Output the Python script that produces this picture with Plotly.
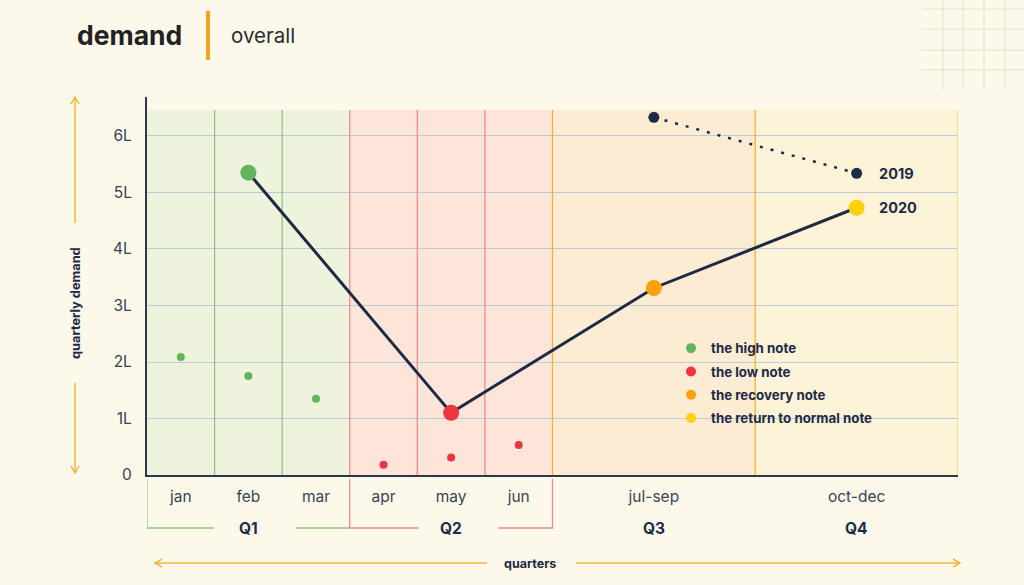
import plotly.graph_objects as go

# ---------------- data ----------------
month_pos = [0.5, 1.5, 2.5, 3.5, 4.5, 5.5, 7.5, 10.5]
month_labels = ["jan", "feb", "mar", "apr", "may", "jun", "jul-sep", "oct-dec"]
quarter_pos = [1.5, 4.5, 7.5, 10.5]
quarter_labels = ["Q1", "Q2", "Q3", "Q4"]

y_ticks = [0, 1, 2, 3, 4, 5, 6]
y_tick_labels = ["0", "1L", "2L", "3L", "4L", "5L", "6L"]

# 2020 quarterly demand (in lakhs) at feb, may, jul-sep, oct-dec
x_2020 = [1.5, 4.5, 7.5, 10.5]
y_2020 = [5.35, 1.10, 3.31, 4.73]
# 2019 demand (jul-sep, oct-dec)
x_2019 = [7.5, 10.5]
y_2019 = [6.33, 5.34]

# monthly demand dots
x_q1_months = [0.5, 1.5, 2.5]
y_q1_months = [2.09, 1.75, 1.35]
x_q2_months = [3.5, 4.5, 5.5]
y_q2_months = [0.18, 0.31, 0.53]

legend_names = ["the high note", "the low note", "the recovery note", "the return to normal note"]

# ---------------- styles ----------------
BG = "#FDF9EA"
NAVY = "#1E2A45"
TXT = "#3A4252"
GREEN, RED, ORANGE, YELLOW = "#63B45B", "#EE3442", "#FFA10A", "#FFD10A"
note_colors = [GREEN, RED, ORANGE, YELLOW]
SHADE = ["#EEF3DD", "#FDE5DA", "#FCECD4", "#FDF3D8"]
SEP_GREEN, SEP_RED, SEP_ORANGE, SEP_YELLOW = "#8DC67E", "#EE8A8A", "#F3B232", "#F6CF4E"
ARROW = "#F5B43C"
FONT = "Inter"

L, R, T, B = 147, 958, 97, 475
W, H = R - L, B - T
YMAX = 6.69
SHADE_TOP = 6.46


def px(x):
    return (x - L) / W


def py(y):
    return (B - y) / H


fig = go.Figure()

# small monthly dots
fig.add_trace(go.Scatter(x=x_q1_months, y=y_q1_months, mode="markers",
                         marker=dict(color=GREEN, size=8), showlegend=False, hoverinfo="y"))
fig.add_trace(go.Scatter(x=x_q2_months, y=y_q2_months, mode="markers",
                         marker=dict(color=RED, size=8), showlegend=False, hoverinfo="y"))

# 2019 dotted line
fig.add_trace(go.Scatter(x=x_2019, y=y_2019, mode="lines+markers", name="2019",
                         line=dict(color=NAVY, width=2.5, dash="3px,8px"),
                         marker=dict(color=NAVY, size=11), showlegend=False))
# 2020 line
fig.add_trace(go.Scatter(x=x_2020, y=y_2020, mode="lines+markers", name="2020",
                         line=dict(color=NAVY, width=3),
                         marker=dict(color=note_colors, size=16), showlegend=False))

# legend entries
for i, (nm, c) in enumerate(zip(legend_names, note_colors)):
    fig.add_trace(go.Scatter(x=[None], y=[None], mode="markers", name=nm,
                             marker=dict(color=c, size=10), legendgroup=f"g{i}"))

shapes = []
# quarter shading
for i, c in enumerate(SHADE):
    shapes.append(dict(type="rect", xref="x", yref="y", x0=3 * i, x1=3 * i + 3, y0=0, y1=SHADE_TOP,
                       fillcolor=c, line=dict(width=0), layer="below"))
# separators
seps = [(1, SEP_GREEN), (2, SEP_GREEN), (3, SEP_RED), (4, SEP_RED), (5, SEP_RED),
        (6, SEP_ORANGE), (9, SEP_ORANGE), (12, SEP_YELLOW)]
for xv, c in seps:
    shapes.append(dict(type="line", xref="x", yref="y", x0=xv, x1=xv, y0=0, y1=SHADE_TOP,
                       line=dict(color=c, width=1.3), layer="between"))

# brackets under month labels
yb0, yb1 = py(479), py(528)
shapes.append(dict(type="path", xref="x", yref="paper",
                   path=f"M0,{yb0} L0,{yb1} L0.99,{yb1} M2.2,{yb1} L3,{yb1}",
                   line=dict(color=SEP_GREEN, width=1.3)))
shapes.append(dict(type="path", xref="x", yref="paper",
                   path=f"M3,{yb0} L3,{yb1} L4.02,{yb1} M5.2,{yb1} L6,{yb1} L6,{yb0}",
                   line=dict(color=SEP_RED, width=1.3)))


def pline(pts):
    return "M" + " L".join(f"{px(a)},{py(b)}" for a, b in pts)


# axis direction arrows
for pts in ([(75, 97), (75, 223)], [(71, 104), (75, 97), (79, 104)],
            [(75, 383), (75, 473)], [(71, 466), (75, 473), (79, 466)],
            [(155, 563), (487, 563)], [(162, 559), (155, 563), (162, 567)],
            [(576, 563), (960, 563)], [(953, 559), (960, 563), (953, 567)]):
    shapes.append(dict(type="path", xref="paper", yref="paper", path=pline(pts),
                       line=dict(color=ARROW, width=1.5)))

# title bar
shapes.append(dict(type="line", xref="paper", yref="paper", x0=px(208), x1=px(208),
                   y0=py(11), y1=py(60), line=dict(color="#F5A31F", width=4)))

# top-right decorative grid
for xv in (943, 963, 984, 1005):
    shapes.append(dict(type="line", xref="paper", yref="paper", x0=px(xv), x1=px(xv),
                       y0=py(0), y1=py(90), line=dict(color="#E6E0CC", width=1)))
for yv in (9, 29, 50, 70):
    shapes.append(dict(type="line", xref="paper", yref="paper", x0=px(922), x1=px(1024),
                       y0=py(yv), y1=py(yv), line=dict(color="#E6E0CC", width=1)))

annotations = []
annotations.append(dict(x=px(75), y=py(35), xref="paper", yref="paper", xanchor="left", yanchor="middle",
                        text="<b>demand</b>", showarrow=False, font=dict(size=26.5, color="#222222", family=FONT)))
annotations.append(dict(x=px(229), y=py(36), xref="paper", yref="paper", xanchor="left", yanchor="middle",
                        text="overall", showarrow=False, font=dict(size=20.5, color="#2A2A2A", family=FONT)))
annotations.append(dict(x=px(75), y=py(303), xref="paper", yref="paper", xanchor="center", yanchor="middle",
                        text="<b>quarterly demand</b>", textangle=-90, showarrow=False,
                        font=dict(size=12.8, color=NAVY, family=FONT)))
annotations.append(dict(x=px(530), y=py(563), xref="paper", yref="paper", xanchor="center", yanchor="middle",
                        text="<b>quarters</b>", showarrow=False, font=dict(size=12.5, color=NAVY, family=FONT)))
for xq, tq in zip(quarter_pos, quarter_labels):
    annotations.append(dict(x=xq, y=py(528), xref="x", yref="paper", xanchor="center", yanchor="middle",
                            text=f"<b>{tq}</b>", showarrow=False, font=dict(size=15.5, color=NAVY, family=FONT)))
annotations.append(dict(x=x_2019[-1], y=y_2019[-1], xref="x", yref="y", xanchor="left", yanchor="middle",
                        xshift=20, text="<b>2019</b>", showarrow=False, font=dict(size=14.5, color=NAVY, family=FONT)))
annotations.append(dict(x=x_2020[-1], y=y_2020[-1], xref="x", yref="y", xanchor="left", yanchor="middle",
                        xshift=20, text="<b>2020</b>", showarrow=False, font=dict(size=14.5, color=NAVY, family=FONT)))

fig.update_layout(
    width=1024, height=585,
    margin=dict(l=L, r=1024 - R, t=T, b=585 - B, autoexpand=False),
    paper_bgcolor=BG, plot_bgcolor=BG,
    font=dict(family=FONT, color=TXT),
    shapes=shapes, annotations=annotations,
    showlegend=True,
    legend=dict(x=px(671), y=py(333), xanchor="left", yanchor="top", bgcolor="rgba(0,0,0,0)",
                font=dict(size=13.3, color=NAVY, family=FONT, weight="bold"),
                tracegroupgap=3, itemclick=False, itemdoubleclick=False),
    xaxis=dict(range=[0, 12], showgrid=False, zeroline=False, showline=True, linecolor="#2C3850",
               linewidth=2, tickmode="array", tickvals=month_pos, ticktext=month_labels,
               ticks="", ticklabelstandoff=6, tickfont=dict(size=15.5, color=TXT, family=FONT),
               fixedrange=True),
    yaxis=dict(range=[0, YMAX], showgrid=True, gridcolor="#BCCBDA", gridwidth=1, zeroline=False,
               showline=True, linecolor="#2C3850", linewidth=2, tickmode="array", tickvals=y_ticks,
               ticktext=y_tick_labels, ticks="", ticklabelstandoff=10,
               tickfont=dict(size=15.5, color=TXT, family=FONT), fixedrange=True),
)

fig.write_html("out.html", config={"displayModeBar": False},
               post_script="document.body.style.margin='0';document.body.style.background='" + BG + "';")
